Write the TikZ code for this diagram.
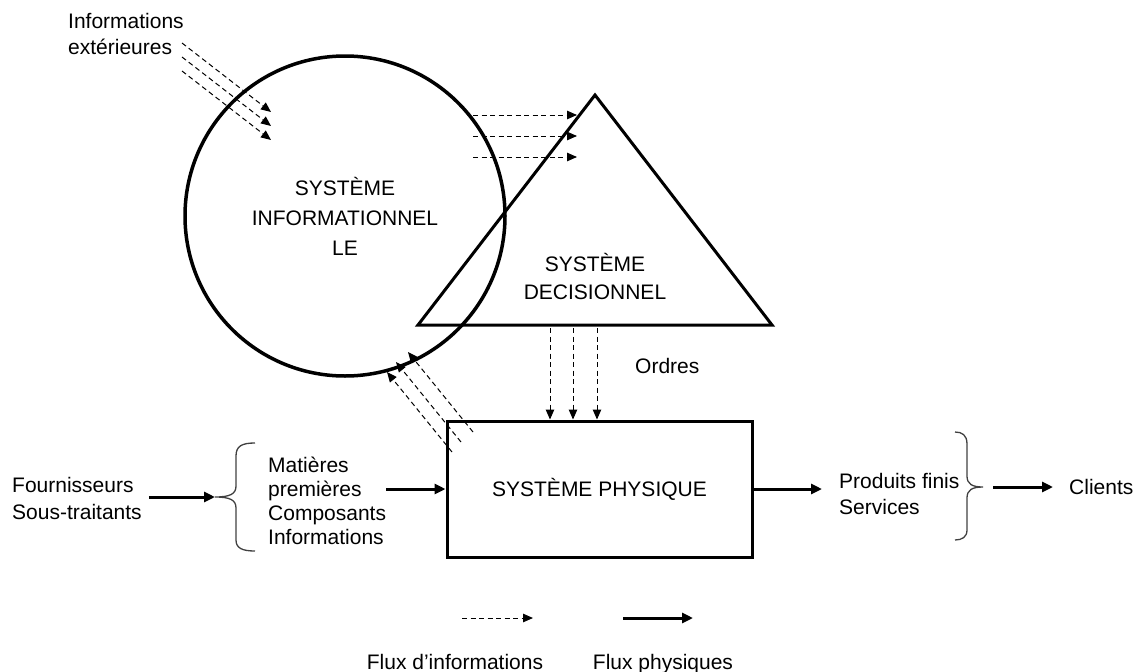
\documentclass[tikz,border=0pt]{standalone}
\usepackage{fontspec}
\setmainfont{Liberation Sans}
\usetikzlibrary{arrows.meta,calc}

\begin{document}
\begin{tikzpicture}[x=1pt,y=-1pt,
  txt/.style={inner sep=0pt,font=\fontsize{21}{26}\selectfont},
  bold/.style={line width=3pt},
  infoflux/.style={line width=1pt,dash pattern=on 5pt off 3.5pt,-{Triangle[length=10pt,width=8.5pt]}},
  physflux/.style={line width=3pt,-{Triangle[length=11pt,width=10pt]}},
  brace/.style={line width=1.3pt,black!75}]
 \useasboundingbox (0,0) rectangle (1144,672);
 % systeme informationnel
 \node [bold,line width=3.5pt,draw,circle,minimum size=320pt,align=center,txt,font=\fontsize{21}{30}\selectfont] (sinfo) at (345,216) {SYSTÈME\\INFORMATIONNEL\\LE};
 \node [txt,anchor=west,align=left] (extinfo) at (68,34) {Informations\\extérieures};
 % systeme decisionnel
 \coordinate (apex) at (595,95);
 \coordinate (bl) at (418,325);
 \coordinate (br) at (772,325);
 \draw [bold] (apex) -- (br) -- (bl) -- cycle;
 \node [txt,align=center,font=\fontsize{21}{28}\selectfont] (sdec) at (595,276) {SYSTÈME\\DECISIONNEL};
 % systeme physique
 \node [bold,draw,minimum width=305pt,minimum height=136pt,txt] (sphys) at (599.5,489) {SYSTÈME PHYSIQUE};
 % flux d'informations
 \coordinate (ext) at (182,43);
 \foreach \k in {0,1,2}
  \draw [infoflux] ($(ext)+(0,14*\k)$) -- ++(89,69);
 \foreach \y in {115,136,157}
  \draw [infoflux] (473,\y) -- (577,\y);
 \foreach \x in {550,573,597}
  \draw [infoflux] (\x,328) -- (\x,0 |- sphys.north);
 \foreach \x/\y in {452/452,461/442,473/432}
  \draw [infoflux] (\x,\y) -- ++(-65,-80);
 \node [txt,anchor=west] (ordres) at (635,366) {Ordres};
 % flux physiques
 \node [txt,anchor=west,align=left,font=\fontsize{21}{27}\selectfont] (fourn) at (12,498) {Fournisseurs\\Sous-traitants};
 \coordinate (lbtip) at (215,497);
 \draw [brace] (255,443) .. controls (242,443) and (236,446) .. (236,456) -- (236,486)
  .. controls (236,494) and (230,497) .. (lbtip) .. controls (230,497) and (236,500) .. (236,508)
  -- (236,540) .. controls (236,548) and (242,551) .. (255,551);
 \draw [physflux] ([xshift=7pt]fourn.east |- lbtip) -- (lbtip);
 \node [txt,anchor=west,align=left,font=\fontsize{21}{24}\selectfont] (mat) at (268,501) {Matières\\premières\\Composants\\Informations};
 \draw [physflux] (mat.east |- sphys.west) -- (sphys.west);
 \node [txt,anchor=west,align=left] (prod) at (839,494) {Produits finis\\Services};
 \draw [physflux] (sphys.east) -- ([xshift=-17pt]prod.west |- sphys.east);
 \coordinate (rbtip) at (983,487);
 \draw [brace] (955,432) .. controls (962,432) and (967,435) .. (967,444) -- (967,476)
  .. controls (967,484) and (972,487) .. (rbtip) .. controls (972,487) and (967,490) .. (967,498)
  -- (967,530) .. controls (967,537) and (962,540) .. (955,540);
 \node [txt,anchor=west] (clients) at (1069,487) {Clients};
 \draw [physflux] ([xshift=10pt]rbtip) -- ([xshift=-16pt]clients.west);
 % legende
 \coordinate (legi) at (462,618);
 \coordinate (legp) at (623,618);
 \draw [infoflux] (legi) -- ++(71,0);
 \draw [physflux] (legp) -- ++(70,0);
 \node [txt,anchor=base] (legitxt) at (455,669) {Flux d’informations};
 \node [txt,anchor=base] (legptxt) at (663,669) {Flux physiques};
\end{tikzpicture}
\end{document}
